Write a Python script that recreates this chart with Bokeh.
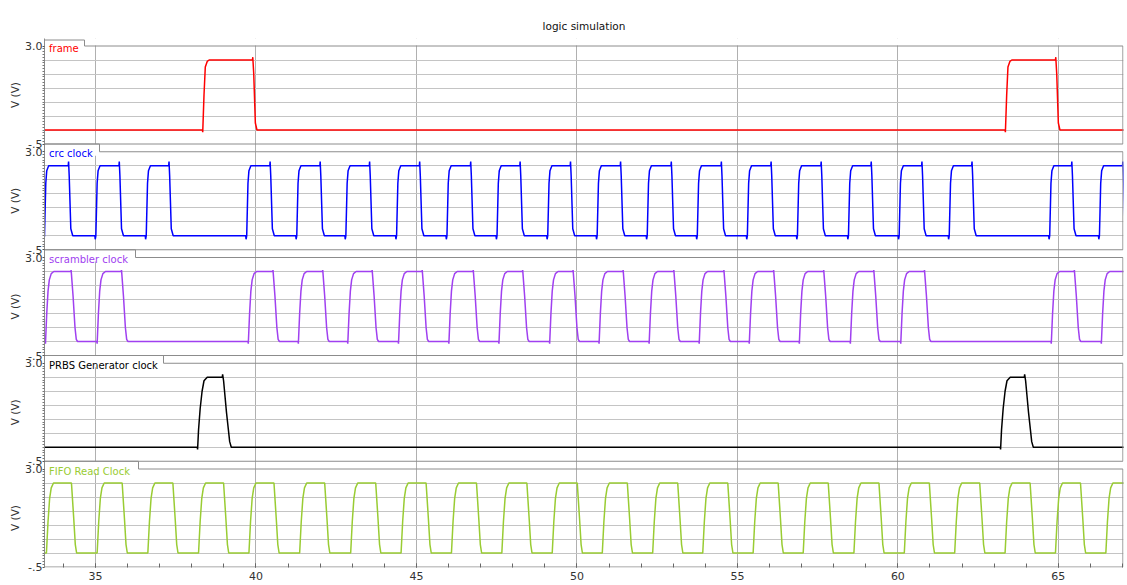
import math
from bokeh.plotting import figure
from bokeh.layouts import row
from bokeh.models import (Range1d, FixedTicker, SingleIntervalTicker, Label,
                          ColumnDataSource)
from bokeh.embed import file_html
from bokeh.resources import INLINE

# ---------------- data ----------------
TITLE = "logic simulation"
X_START, X_END = 33.41, 67.03
X_TICK_STEP = 5
V_MIN, V_MAX = -0.5, 3.0
V_LABELS = {3.0: "3.0", -0.5: "-.5"}
Y_LABEL = "V (V)"

NAMES = ["frame", "crc clock", "scrambler clock", "PRBS Generator clock", "FIFO Read Clock"]
LOW = [0.0, 0.0, 0.0, 0.0, 0.0]
HIGH = [2.5, 2.5, 2.5, 2.5, 2.5]

FRAME_RISE = [38.33, 63.34]
FRAME_FALL = [39.89, 64.91]

CRC_RISE = [33.38, 34.98, 36.55, 39.68, 41.24, 42.77, 44.35, 45.92, 47.48, 49.06,
            50.60, 52.16, 53.72, 55.28, 56.84, 58.43, 60.01, 61.57, 64.70, 66.25]
CRC_FALL = [34.15, 35.73, 37.28, 40.43, 41.99, 43.53, 45.09, 46.68, 48.22, 49.79,
            51.35, 52.93, 54.49, 56.04, 57.60, 59.16, 60.74, 62.30, 65.41, 67.00]

SCR_RISE = [33.43, 35.04, 39.75, 41.31, 42.85, 44.43, 46.00, 47.56, 49.14, 50.68,
            52.24, 53.80, 55.36, 56.92, 58.51, 60.08, 64.77, 66.33]
SCR_FALL = [34.23, 35.80, 40.52, 42.07, 43.61, 45.17, 46.76, 48.30, 49.87, 51.43,
            53.01, 54.57, 56.12, 57.68, 59.24, 60.82, 65.49]

PRBS_RISE = [38.17, 63.19]
PRBS_FALL = [38.95, 63.94]

FIFO_RISE = [33.47, 35.05, 36.63, 38.21, 39.78, 41.36, 42.95, 44.52, 46.09, 47.66, 49.23,
             50.79, 52.36, 53.92, 55.49, 57.05, 58.63, 60.20, 61.77, 63.34, 64.91, 66.48]
FIFO_FALL = [34.25, 35.83, 37.41, 38.99, 40.56, 42.14, 43.73, 45.30, 46.87, 48.44, 50.01,
             51.57, 53.14, 54.70, 56.27, 57.83, 59.41, 60.98, 62.55, 64.12, 65.69]

# ---------------- styles ----------------
COLORS = ["#ff0000", "#0000ff", "#a040f0", "#000000", "#99cc33"]
TAB_W = [40, 55, 91, 119, 94]          # px width of each legend tab
# edge shapes: (dt, fraction of the swing from start level to end level)
SHAPE_FRAME = ([(0, 0), (0.01, -0.03), (0.05, 0.5), (0.09, 0.9), (0.15, 0.98), (0.21, 1.0)],
               [(0, 0), (0.01, -0.04), (0.04, 0.2), (0.09, 0.9), (0.14, 1.0)])
SHAPE_CRC = ([(0, 0), (0.01, -0.05), (0.03, 0.0), (0.07, 0.75), (0.10, 0.93), (0.16, 1.0)],
             [(0, 0), (0.01, -0.06), (0.03, 0.15), (0.08, 0.9), (0.14, 1.0)])
SHAPE_SCR = ([(0, 0), (0.01, -0.03), (0.05, 0.4), (0.09, 0.72), (0.13, 0.88), (0.19, 0.97), (0.27, 1.0)],
             [(0, 0), (0.01, -0.02), (0.07, 0.35), (0.13, 0.8), (0.17, 0.97), (0.21, 1.0)])
SHAPE_PRBS = ([(0, 0), (0.01, -0.03), (0.04, 0.25), (0.09, 0.55), (0.15, 0.8), (0.21, 0.95), (0.31, 1.0)],
              [(0, 0), (0.01, -0.04), (0.04, 0.05), (0.13, 0.5), (0.23, 0.92), (0.28, 1.0)])
SHAPE_FIFO = ([(0, 0), (0.05, 0.45), (0.1, 0.78), (0.15, 0.93), (0.22, 1.0)],
              [(0, 0), (0.07, 0.5), (0.12, 0.88), (0.16, 1.0)])

SIGNALS = [(FRAME_RISE, FRAME_FALL, SHAPE_FRAME),
           (CRC_RISE, CRC_FALL, SHAPE_CRC),
           (SCR_RISE, SCR_FALL, SHAPE_SCR),
           (PRBS_RISE, PRBS_FALL, SHAPE_PRBS),
           (FIFO_RISE, FIFO_FALL, SHAPE_FIFO)]

FONT = "DejaVu Sans"
BORDER = "#8c8c8c"

# ---------------- geometry (pixels) ----------------
LEFT_W = 22            # strip holding the "V (V)" labels
FW, FH = 1079, 529
TOP, BOTTOM = 38, 18
PPU = FW / (X_END - X_START)
P, H = 105.75, 98.0
FIRST_PLOT_TOP = 7.5   # px below frame top
FIRST_TAB_H = 6.0
VPX = H / (V_MAX - V_MIN)

plot_top = [FH - FIRST_PLOT_TOP - k * P for k in range(5)]
plot_bot = [t - H for t in plot_top]
tab_top = [plot_top[0] + FIRST_TAB_H] + plot_bot[:-1]


def v2px(k, v):
    return plot_bot[k] + (v - V_MIN) * VPX


def wave(rises, falls, lo, hi, shape, t0, t1):
    ev = sorted([(r, 1) for r in rises] + [(f, 0) for f in falls])
    level = lo if ev[0][1] == 1 else hi
    xs, ys = [t0], [level]
    for t, up in ev:
        a, b = (lo, hi) if up else (hi, lo)
        for dt, fr in (shape[0] if up else shape[1]):
            xs.append(t + dt)
            ys.append(a + (b - a) * fr)
        level = b
    xs.append(t1)
    ys.append(level)
    return xs, ys


p = figure(frame_width=FW, frame_height=FH,
           x_range=Range1d(X_START, X_END), y_range=Range1d(0, FH),
           output_backend="svg", toolbar_location=None,
           min_border_left=20, min_border_right=6, min_border_top=TOP, min_border_bottom=BOTTOM,
           title=TITLE)
p.outline_line_color = None
p.background_fill_color = "white"
p.border_fill_color = "white"
p.title.align = "center"
p.title.text_font = FONT
p.title.text_font_size = "10.5px"
p.title.text_font_style = "normal"
p.title.text_color = "#111111"
p.title.standoff = 14

# x axis
xt = SingleIntervalTicker(interval=X_TICK_STEP, num_minor_ticks=5)
xa = p.xaxis[0]
xa.ticker = xt
xa.axis_line_color = None
xa.major_tick_in = 4
xa.major_tick_out = 0
xa.minor_tick_in = 4
xa.minor_tick_out = 0
xa.major_tick_line_color = "#666666"
xa.minor_tick_line_color = "#666666"
xa.major_label_text_font = FONT
xa.major_label_text_font_size = "11px"
xa.major_label_text_color = "#333333"
xa.major_label_standoff = 4
p.xgrid.ticker = xt
p.xgrid.grid_line_color = "#b0b0b0"

# y axis (one per panel drawn as a shared left axis)
major, minor, grid, overrides = [], [], [], {}
for k in range(5):
    for v, lab in V_LABELS.items():
        pos = v2px(k, v)
        major.append(pos)
        overrides[pos] = lab
    for i in range(1, 35):
        minor.append(plot_bot[k] + i * VPX * 0.1)
    for j in range(1, 7):
        grid.append(v2px(k, V_MIN + 0.5 * j))
ya = p.yaxis[0]
ya.ticker = FixedTicker(ticks=major, minor_ticks=minor)
ya.major_label_overrides = overrides
ya.axis_line_color = BORDER
ya.major_tick_out = 2
ya.major_tick_in = 0
ya.minor_tick_out = 2
ya.minor_tick_in = 0
ya.major_tick_line_color = "#555555"
ya.minor_tick_line_color = "#777777"
ya.major_label_standoff = 0
ya.major_label_text_font = FONT
ya.major_label_text_font_size = "11px"
ya.major_label_text_color = "#333333"
p.ygrid.ticker = FixedTicker(ticks=grid)
p.ygrid.grid_line_color = "#c4c4c4"

# white covers (tab interiors and strip above the first panel)
dx = 1.0 / PPU
lefts, rights, bots, tops = [], [], [], []
for k in range(5):
    lefts.append(X_START + 0.6 * dx); rights.append(X_START + (TAB_W[k] - 0.6) * dx)
    bots.append(plot_top[k] - 4); tops.append(tab_top[k])
lefts.append(X_START + TAB_W[0] * dx); rights.append(X_END)
bots.append(plot_top[0] + 0.6); tops.append(FH)
p.quad(left=lefts, right=rights, bottom=bots, top=tops, fill_color="white", line_color=None)

# waveforms, each on its own voltage range
for k in range(5):
    start = V_MIN - plot_bot[k] / VPX
    p.extra_y_ranges[f"p{k}"] = Range1d(start, start + FH / VPX)
for k, (ri, fa, shp) in enumerate(SIGNALS):
    xs, ys = wave(ri, fa, LOW[k], HIGH[k], shp, X_START - 0.6, X_END + 0.6)
    src = ColumnDataSource(dict(t=xs, v=ys))
    p.line("t", "v", source=src, y_range_name=f"p{k}", line_color=COLORS[k], line_width=1.5)

# panel borders + tabs
xr = X_END - 0.6 * dx
bx, by = [], []
for k in range(5):
    tw = X_START + TAB_W[k] * dx
    bx.append([X_START, tw, tw, xr, xr, X_START])
    by.append([tab_top[k], tab_top[k], plot_top[k], plot_top[k], plot_bot[k], plot_bot[k]])
p.multi_line(bx, by, line_color=BORDER, line_width=1)

# legend tab texts
for k in range(5):
    p.add_layout(Label(x=X_START + 4.5 * dx, y=plot_top[k] - 2, text=NAMES[k],
                       text_font=FONT, text_font_size="10px", text_color=COLORS[k],
                       text_align="left", text_baseline="alphabetic"))

# left strip with the per-panel "V (V)" labels
q = figure(frame_width=LEFT_W, frame_height=FH,
           x_range=Range1d(0, LEFT_W), y_range=Range1d(0, FH),
           output_backend="svg", toolbar_location=None,
           min_border_left=0, min_border_right=0, min_border_top=TOP, min_border_bottom=BOTTOM)
q.xaxis.visible = False
q.yaxis.visible = False
q.xgrid.visible = False
q.ygrid.visible = False
q.outline_line_color = None
for k in range(5):
    q.add_layout(Label(x=14.5, y=(plot_top[k] + plot_bot[k]) / 2, text=Y_LABEL,
                       angle=math.pi / 2, text_font=FONT, text_font_size="10.5px",
                       text_color="#333333", text_align="center", text_baseline="middle"))

layout = row(q, p, spacing=0)
open("out.html", "w").write(file_html(layout, INLINE))
